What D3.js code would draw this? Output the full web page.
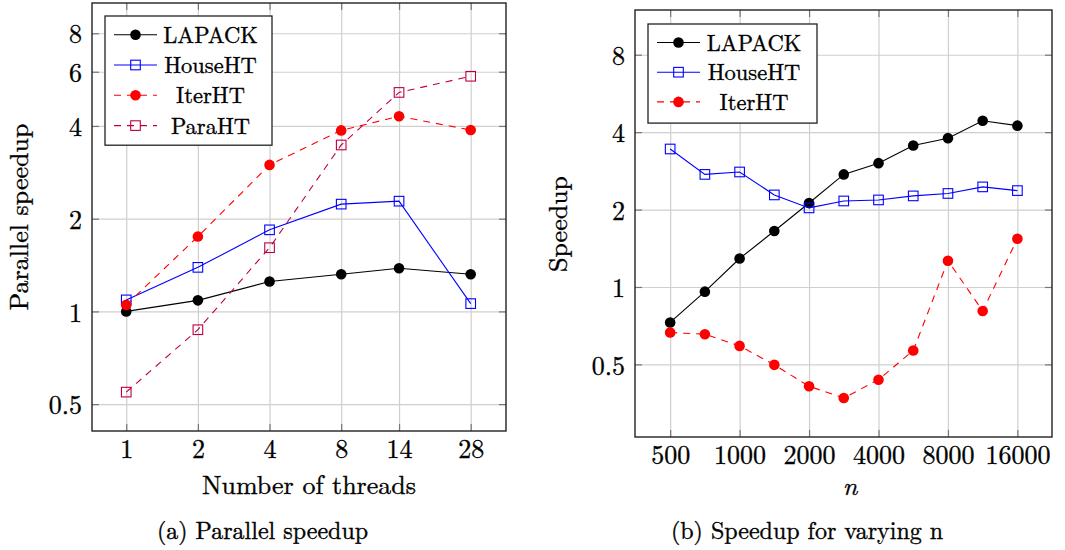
<!DOCTYPE html>
<html lang="en">
<head>
<meta charset="utf-8">
<title>Speedup</title>
<style>
  body { margin: 0; background: #fff; }
  svg { display: block; }
  .grid line { stroke: #cfcfcf; stroke-width: 1.2px; }
  .grid path { display: none; }
  .ticks line { stroke: #777; stroke-width: 1.2px; }
  .ticks path { display: none; }
  .lab path, .lab line { display: none; }
  .frame { fill: none; stroke: #222; stroke-width: 1.4px; }
</style>
</head>
<body>
<svg id="chart" width="1065" height="550"></svg>
<script src="https://cdn.jsdelivr.net/npm/d3@7"></script>
<script>
// panel (a): parallel speedup vs number of threads
var threads = [1, 2, 4, 8, 14, 28];
var lapackThreads = [1.0, 1.086, 1.25, 1.32, 1.38, 1.32];
var houseThreads  = [1.09, 1.39, 1.84, 2.23, 2.28, 1.06];
var iterThreads   = [1.05, 1.75, 2.99, 3.87, 4.3, 3.88];
var paraThreads   = [0.547, 0.872, 1.61, 3.47, 5.14, 5.8];
var threadTicks = [1, 2, 4, 8, 14, 28];
var speedTicksA = [0.5, 1, 2, 4, 6, 8];

// panel (b): speedup vs matrix size n
var sizes = [500, 707, 1000, 1414, 2000, 2828, 4000, 5657, 8000, 11314, 16000];
var lapackSizes = [0.728, 0.959, 1.29, 1.65, 2.12, 2.74, 3.03, 3.55, 3.79, 4.43, 4.24];
var houseSizes  = [3.44, 2.74, 2.80, 2.28, 2.03, 2.16, 2.18, 2.26, 2.31, 2.45, 2.37];
var iterSizes   = [0.665, 0.655, 0.59, 0.498, 0.411, 0.37, 0.436, 0.566, 1.265, 0.807, 1.54];
var sizeTicks = [500, 1000, 2000, 4000, 8000, 16000];
var speedTicksB = [0.5, 1, 2, 4, 8];

var FONT = "'Latin Modern Roman', 'Liberation Serif', serif";

var styles = {
  LAPACK:  { color: "#000000", dash: null,  marker: "circle" },
  HouseHT: { color: "#0000ff", dash: null,  marker: "square" },
  IterHT:  { color: "#ff0000", dash: "7,6", marker: "circle" },
  ParaHT:  { color: "#bf0040", dash: "7,6", marker: "square" }
};

var svg = d3.select("#chart");

function marker(g, kind, color, x, y) {
  if (kind === "circle") {
    g.append("circle").attr("cx", x).attr("cy", y).attr("r", 5.3).attr("fill", color);
  } else {
    g.append("rect").attr("x", x - 4.8).attr("y", y - 4.8)
      .attr("width", 9.6).attr("height", 9.6)
      .attr("fill", "none").attr("stroke", color).attr("stroke-width", 1.1);
  }
}

function panel(cfg) {
  var x = d3.scaleLog().base(2).domain(cfg.xDomain).range([cfg.left, cfg.right]);
  var y = d3.scaleLog().base(2).domain(cfg.yDomain).range([cfg.bottom, cfg.top]);
  var w = cfg.right - cfg.left, h = cfg.bottom - cfg.top;
  var g = svg.append("g");

  // grid
  g.append("g").attr("class", "grid").attr("transform", "translate(0," + cfg.bottom + ")")
    .call(d3.axisBottom(x).tickValues(cfg.xTicks).tickSize(-h).tickFormat(""));
  g.append("g").attr("class", "grid").attr("transform", "translate(" + cfg.left + ",0)")
    .call(d3.axisLeft(y).tickValues(cfg.yTicks).tickSize(-w).tickFormat(""));

  // inner tick marks on all four sides
  g.append("g").attr("class", "ticks").attr("transform", "translate(0," + cfg.bottom + ")")
    .call(d3.axisBottom(x).tickValues(cfg.xTicks).tickSize(-7).tickFormat(""));
  g.append("g").attr("class", "ticks").attr("transform", "translate(0," + cfg.top + ")")
    .call(d3.axisTop(x).tickValues(cfg.xTicks).tickSize(-7).tickFormat(""));
  g.append("g").attr("class", "ticks").attr("transform", "translate(" + cfg.left + ",0)")
    .call(d3.axisLeft(y).tickValues(cfg.yTicks).tickSize(-7).tickFormat(""));
  g.append("g").attr("class", "ticks").attr("transform", "translate(" + cfg.right + ",0)")
    .call(d3.axisRight(y).tickValues(cfg.yTicks).tickSize(-7).tickFormat(""));

  // tick labels
  g.append("g").attr("class", "lab").attr("transform", "translate(0," + cfg.bottom + ")")
    .call(d3.axisBottom(x).tickValues(cfg.xTicks).tickSize(0).tickPadding(9).tickFormat(d3.format("d")));
  g.append("g").attr("class", "lab").attr("transform", "translate(" + cfg.left + ",0)")
    .call(d3.axisLeft(y).tickValues(cfg.yTicks).tickSize(0).tickPadding(10).tickFormat(function(d) { return String(d); }))
    .selectAll("text").attr("dy", "0.37em");
  g.selectAll(".lab").attr("font-size", 26);

  g.append("rect").attr("class", "frame")
    .attr("x", cfg.left).attr("y", cfg.top).attr("width", w).attr("height", h);

  // series
  var line = d3.line().x(function(d) { return x(d[0]); }).y(function(d) { return y(d[1]); });
  cfg.series.forEach(function(s) {
    var st = styles[s.name];
    var pts = cfg.xs.map(function(v, i) { return [v, s.values[i]]; });
    g.append("path").attr("d", line(pts))
      .attr("fill", "none").attr("stroke", st.color).attr("stroke-width", 1.1)
      .attr("stroke-dasharray", st.dash);
    pts.forEach(function(p) { marker(g, st.marker, st.color, x(p[0]), y(p[1])); });
  });

  // legend
  var L = cfg.legend;
  var lg = g.append("g");
  lg.append("rect").attr("x", L.x).attr("y", L.y).attr("width", L.w)
    .attr("height", L.rowH * cfg.series.length + L.pad)
    .attr("fill", "#fff").attr("stroke", "#222").attr("stroke-width", 1.3);
  cfg.series.forEach(function(s, i) {
    var st = styles[s.name];
    var cy = L.y + L.first + i * L.rowH;
    lg.append("line").attr("x1", L.x + 9).attr("x2", L.x + 52).attr("y1", cy).attr("y2", cy)
      .attr("stroke", st.color).attr("stroke-width", 1.1).attr("stroke-dasharray", st.dash);
    marker(lg, st.marker, st.color, L.x + 30.5, cy);
    lg.append("text").attr("x", L.textX).attr("y", cy + 8)
      .attr("text-anchor", "middle").attr("font-size", 22.5).text(s.name);
  });

  // axis titles and caption
  g.append("text").attr("x", cfg.xLabel.x).attr("y", cfg.xLabel.y)
    .attr("text-anchor", "middle").attr("font-size", 26)
    .attr("font-style", cfg.xLabel.italic ? "italic" : null)
    .text(cfg.xLabel.text);
  g.append("text").attr("transform", "translate(" + cfg.yLabel.x + "," + cfg.yLabel.y + ") rotate(-90)")
    .attr("text-anchor", "middle").attr("font-size", 26)
    .text(cfg.yLabel.text);
  g.append("text").attr("x", cfg.caption.x).attr("y", cfg.caption.y)
    .attr("text-anchor", "middle").attr("font-size", 24)
    .text(cfg.caption.text);
}

panel({
  left: 92, right: 506, top: 3, bottom: 431,
  xDomain: [0.718, 39.4], yDomain: [0.409, 10.03],
  xTicks: threadTicks, yTicks: speedTicksA, xs: threads,
  series: [
    { name: "LAPACK", values: lapackThreads },
    { name: "HouseHT", values: houseThreads },
    { name: "IterHT", values: iterThreads },
    { name: "ParaHT", values: paraThreads }
  ],
  legend: { x: 105, y: 16, w: 167, rowH: 30.3, first: 18.7, pad: 8, textX: 210.5 },
  xLabel: { text: "Number of threads", x: 309, y: 494 },
  yLabel: { text: "Parallel speedup", x: 28, y: 217 },
  caption: { text: "(a) Parallel speedup", x: 262.5, y: 539 }
});

panel({
  left: 635, right: 1052, top: 10, bottom: 437,
  xDomain: [352, 22600], yDomain: [0.261, 11.94],
  xTicks: sizeTicks, yTicks: speedTicksB, xs: sizes,
  series: [
    { name: "LAPACK", values: lapackSizes },
    { name: "HouseHT", values: houseSizes },
    { name: "IterHT", values: iterSizes }
  ],
  legend: { x: 648, y: 24, w: 169, rowH: 29.7, first: 18.5, pad: 10, textX: 754 },
  xLabel: { text: "n", x: 850, y: 495, italic: true },
  yLabel: { text: "Speedup", x: 567, y: 224 },
  caption: { text: "(b) Speedup for varying n", x: 807, y: 539 }
});

// serif face for every label, including the ones d3.axis created;
// a hairline stroke gives the heavier look of the original
svg.selectAll("g").attr("font-family", null);
svg.selectAll("text")
  .style("font-family", FONT)
  .attr("fill", "#000")
  .attr("stroke", "#000")
  .attr("stroke-width", 0.35);
</script>
</body>
</html>
